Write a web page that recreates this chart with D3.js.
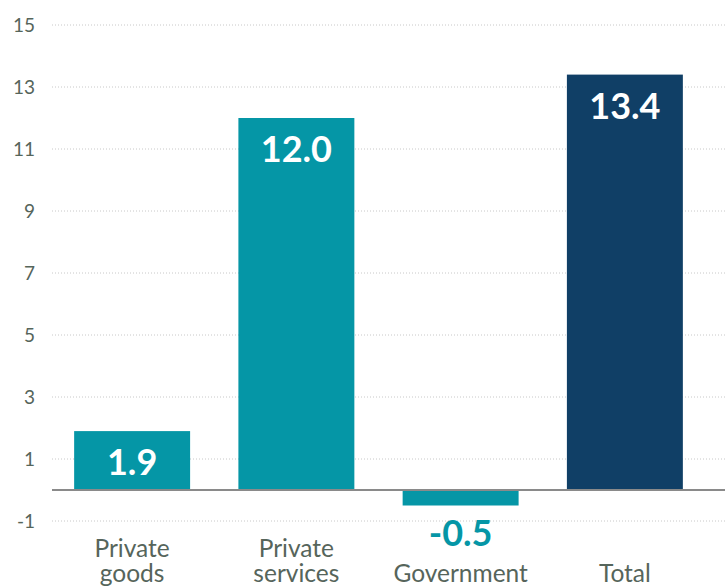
<!DOCTYPE html>
<html><head><meta charset="utf-8">
<script src="https://cdn.jsdelivr.net/npm/d3@7"></script>
<style>
html,body{margin:0;padding:0;background:#fff;}
svg{display:block;font-family:Lato, "Noto Sans", sans-serif;}
</style></head>
<body><svg id="c" width="725" height="588"></svg>
<script>
const categories = ["Private goods", "Private services", "Government", "Total"];
const values = [1.9, 12.0, -0.5, 13.4];
const barKinds = ["component", "component", "component", "total"];
const yTicks = [-1, 1, 3, 5, 7, 9, 11, 13, 15];

const W = 725, H = 588;
const svg = d3.select("#c");
const left = 52, right = 725;
const colors = {component: "#0596a6", total: "#103f66"};
const textCol = "#56655b";

const y = d3.scaleLinear().domain([-1, 15]).range([521, 25]);
const x = d3.scaleBand().domain(categories).range([50, 707]).paddingInner(0.294).paddingOuter(0.147);

// gridlines
svg.append("g").selectAll("line").data(yTicks).join("line")
  .attr("x1", left).attr("x2", right)
  .attr("y1", d => y(d)).attr("y2", d => y(d))
  .attr("stroke", "#c8c8c8").attr("stroke-width", 1)
  .attr("stroke-dasharray", "1,2");

// y tick labels
const yAxis = d3.axisLeft(y).tickValues(yTicks).tickSize(0).tickPadding(0).tickFormat(d => String(d));
const ga = svg.append("g").attr("transform", `translate(35,0)`).call(yAxis);
ga.select(".domain").remove();
ga.selectAll("text").attr("font-size", 19).attr("fill", textCol).attr("font-family", "Lato");

// bars
svg.append("g").selectAll("rect").data(categories).join("rect")
  .attr("x", d => x(d))
  .attr("width", x.bandwidth())
  .attr("y", (d, i) => y(Math.max(0, values[i])))
  .attr("height", (d, i) => Math.abs(y(values[i]) - y(0)))
  .attr("fill", (d, i) => colors[barKinds[i]]);

// zero line
svg.append("line").attr("x1", left).attr("x2", right)
  .attr("y1", y(0)).attr("y2", y(0))
  .attr("stroke", "#8a8a8a").attr("stroke-width", 2);

// value labels
svg.append("g").selectAll("text").data(categories).join("text")
  .attr("x", d => x(d) + x.bandwidth() / 2)
  .attr("y", (d, i) => values[i] >= 0 ? y(values[i]) + 44 : y(values[i]) + 40)
  .attr("text-anchor", "middle")
  .attr("font-size", 36).attr("font-weight", "bold")
  .attr("fill", (d, i) => values[i] >= 0 ? "#fff" : colors[barKinds[i]])
  .text((d, i) => d3.format(".1f")(values[i]).replace("\u2212", "-"));

// category labels (bottom aligned, one text per line)
const lineH = 25, lastBase = 582;
const labelLines = [];
categories.forEach(d => {
  const words = d.split(" ");
  words.forEach((w, k) => labelLines.push({cat: d, text: w, row: words.length - 1 - k}));
});
svg.append("g").selectAll("text").data(labelLines).join("text")
  .attr("text-anchor", "middle")
  .attr("font-size", 24.5).attr("fill", textCol)
  .attr("x", d => x(d.cat) + x.bandwidth() / 2)
  .attr("y", d => lastBase - d.row * lineH)
  .text(d => d.text);
</script></body></html>
